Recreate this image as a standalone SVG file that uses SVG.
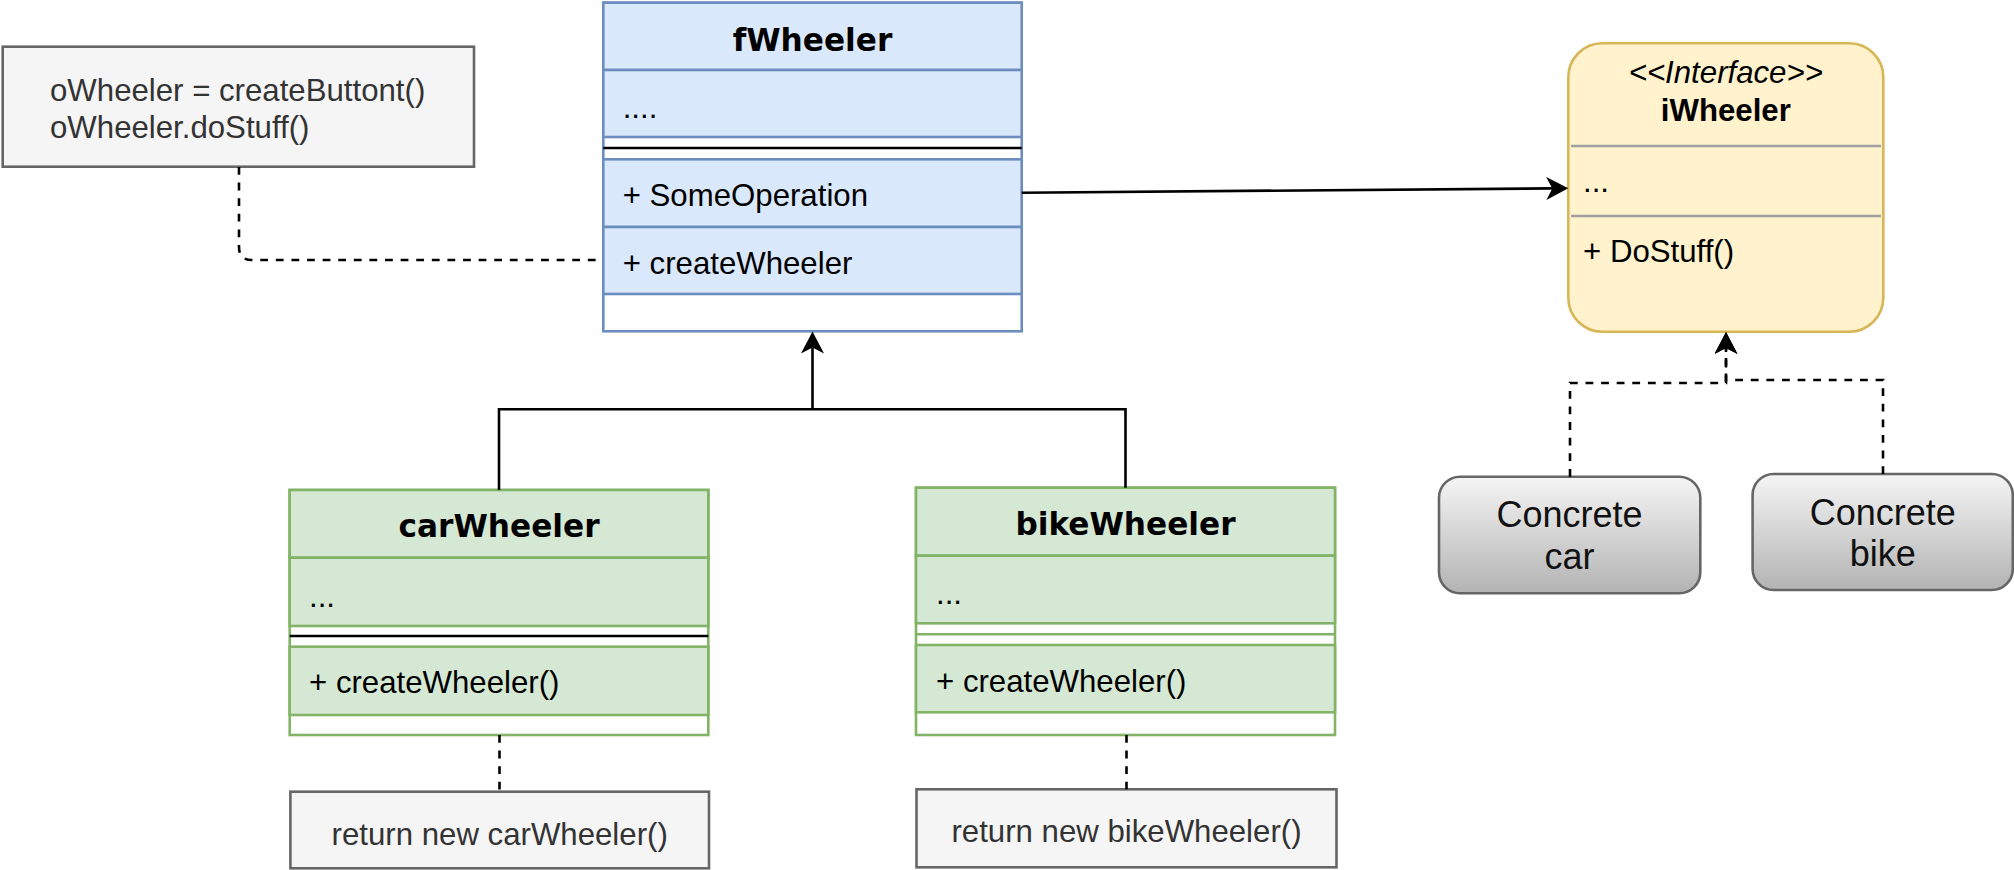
<svg xmlns="http://www.w3.org/2000/svg" width="2014" height="870" viewBox="0 0 2014 870">
<style>
.t{font-family:"Liberation Sans",Arial,sans-serif;font-size:31.2px;fill:#000}
.title{font-family:"DejaVu Sans",Verdana,sans-serif;font-size:31.2px;font-weight:bold;fill:#000;text-anchor:middle}
.note{font-family:"Liberation Sans",Arial,sans-serif;font-size:31.2px;fill:#333333}
.blue{fill:#dae8fc;stroke:#6c8ebf;stroke-width:2.6}
.green{fill:#d5e8d4;stroke:#82b366;stroke-width:2.6}
.box{fill:#ffffff;stroke-width:2.6}
.notebox{fill:#f5f5f5;stroke:#666666;stroke-width:2.6}
.edge{fill:none;stroke:#000;stroke-width:2.6}
.dash{stroke-dasharray:7.8 7.8}
.conc{fill:url(#gg);stroke:#666666;stroke-width:2.6}
.ct{font-family:"Liberation Sans",Arial,sans-serif;font-size:36px;fill:#111;text-anchor:middle}
</style>
<defs>
<linearGradient id="gg" x1="0" y1="0" x2="0" y2="1">
<stop offset="0" stop-color="#f5f5f5"/>
<stop offset="1" stop-color="#b3b3b3"/>
</linearGradient>
<marker id="arr" markerUnits="userSpaceOnUse" markerWidth="24" markerHeight="24" viewBox="0 0 24 24" refX="6" refY="11.5" orient="auto">
<path d="M22,11.5 L0,0 L6,11.5 L0,23 Z" fill="#000" stroke="none"/>
</marker>
</defs>

<g id="note-main">
<rect class="notebox" x="2.7" y="46.7" width="471.3" height="120"/>
<text class="note" x="50" y="100.5">oWheeler = createButtont()</text>
<text class="note" x="50" y="137.9">oWheeler.doStuff()</text>
</g>

<g id="fWheeler">
<rect class="box" x="603.3" y="2.7" width="418.4" height="328.6" stroke="#6c8ebf"/>
<rect class="blue" x="603.3" y="2.7" width="418.4" height="67.3"/>
<rect class="blue" x="603.3" y="70" width="418.4" height="67"/>
<line x1="603.3" y1="148" x2="1021.7" y2="148" stroke="#000" stroke-width="2.6"/>
<rect class="blue" x="603.3" y="159.3" width="418.4" height="67.7"/>
<rect class="blue" x="603.3" y="227" width="418.4" height="67"/>
<text class="title" x="812.5" y="50.7">fWheeler</text>
<text class="t" x="622.7" y="118">....</text>
<text class="t" x="622.7" y="205.7">+ SomeOperation</text>
<text class="t" x="622.7" y="274">+ createWheeler</text>
</g>

<g id="iWheeler">
<rect x="1568.3" y="43.3" width="315" height="288.4" rx="34" ry="34" fill="#fff2cc" stroke="#d6b656" stroke-width="2.6"/>
<line x1="1571" y1="146" x2="1881" y2="146" stroke="#a0a0a0" stroke-width="2.6"/>
<line x1="1571" y1="216" x2="1881" y2="216" stroke="#a0a0a0" stroke-width="2.6"/>
<text x="1725.8" y="83.3" text-anchor="middle" font-family="Liberation Sans, Arial, sans-serif" font-size="31.2" font-style="italic" fill="#000">&lt;&lt;Interface&gt;&gt;</text>
<text x="1725.8" y="120.7" text-anchor="middle" font-family="Liberation Sans, Arial, sans-serif" font-size="31.2" font-weight="bold" fill="#000">iWheeler</text>
<text class="t" x="1583" y="191.7">...</text>
<text class="t" x="1583" y="261.7">+ DoStuff()</text>
</g>

<g id="carWheeler">
<rect class="box" x="289.7" y="490" width="418.6" height="245" stroke="#82b366"/>
<rect class="green" x="289.7" y="490" width="418.6" height="67.7"/>
<rect class="green" x="289.7" y="557.7" width="418.6" height="68.3"/>
<line x1="289.7" y1="636" x2="708.3" y2="636" stroke="#000" stroke-width="2.6"/>
<rect class="green" x="289.7" y="646.7" width="418.6" height="68.3"/>
<text class="title" x="499" y="537.3">carWheeler</text>
<text class="t" x="309" y="606.7">...</text>
<text class="t" x="309" y="693.3">+ createWheeler()</text>
</g>

<g id="bikeWheeler">
<rect class="box" x="916" y="487.7" width="419" height="247.3" stroke="#82b366"/>
<rect class="green" x="916" y="487.7" width="419" height="68"/>
<rect class="green" x="916" y="555.7" width="419" height="67.6"/>
<line x1="916" y1="634.3" x2="1335" y2="634.3" stroke="#82b366" stroke-width="2.6"/>
<rect class="green" x="916" y="645" width="419" height="67.3"/>
<text class="title" x="1125.5" y="535">bikeWheeler</text>
<text class="t" x="936" y="604">...</text>
<text class="t" x="936" y="691.7">+ createWheeler()</text>
</g>

<g id="note-car">
<rect class="notebox" x="290.4" y="791.7" width="418.6" height="76.6"/>
<text class="note" x="499.7" y="845" text-anchor="middle">return new carWheeler()</text>
</g>

<g id="note-bike">
<rect class="notebox" x="916.5" y="789.3" width="420" height="78"/>
<text class="note" x="1126.5" y="841.7" text-anchor="middle">return new bikeWheeler()</text>
</g>

<g id="concrete-car">
<rect class="conc" x="1439" y="476.7" width="261.3" height="116.6" rx="21" ry="21"/>
<text class="ct" x="1569.6" y="527">Concrete</text>
<text class="ct" x="1569.6" y="569">car</text>
</g>

<g id="concrete-bike">
<rect class="conc" x="1752.6" y="474" width="260.2" height="116" rx="21" ry="21"/>
<text class="ct" x="1882.7" y="524.5">Concrete</text>
<text class="ct" x="1882.7" y="566">bike</text>
</g>

<g id="connectors">
<path class="edge dash" d="M239,167 V247 Q239,260 252,260 H603.3"/>
<path class="edge" d="M1021.7,192.7 L1552.3,188.4" marker-end="url(#arr)"/>
<path class="edge" d="M499,490 V409.3 H1125.5 V487.7"/>
<path class="edge" d="M812.5,409.3 V347.5" marker-end="url(#arr)"/>
<path class="edge dash" d="M499.5,735 V791.7"/>
<path class="edge dash" d="M1126.5,735 V789.3"/>
<path class="edge dash" d="M1570,476.7 V383 H1726 V348" marker-end="url(#arr)"/>
<path class="edge dash" d="M1883,474 V380 H1726 V348" marker-end="url(#arr)"/>
</g>
</svg>
